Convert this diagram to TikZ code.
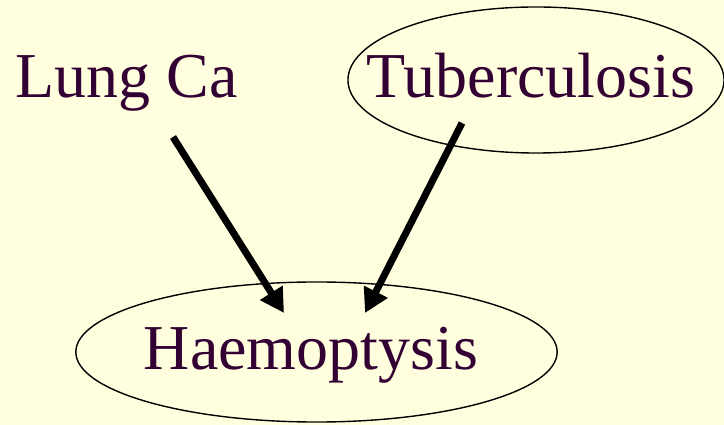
\documentclass[tikz,border=0pt]{standalone}
\usepackage{fontspec}
\setmainfont{Liberation Serif}
\usepackage{tikz}
\usetikzlibrary{positioning,arrows.meta,shapes.geometric}
\definecolor{slidebg}{RGB}{255,255,224}
\definecolor{termpurple}{RGB}{51,0,51}
\tikzset{
  term/.style={text=termpurple, inner sep=0pt, text height=30.1pt, text depth=0pt,
               font=\fontsize{45.5}{54}\selectfont},
  ring/.style={ellipse, draw=black, line width=1pt, inner sep=0pt},
  cause/.style={line width=5pt, -{Triangle[length=17pt,width=18pt]}}
}

\begin{document}
\begin{tikzpicture}[x=0.025cm, y=-0.025cm]
  \fill[slidebg] (0,0) rectangle (724,425);
  \useasboundingbox (0,0) rectangle (724,425);
  % ellipses round two of the terms
  \node[ring, minimum width=9.4cm, minimum height=3.65cm] (tbring) at (536,80) {};
  \node[ring, minimum width=12.03cm, minimum height=3.5cm] (haemring) at (316.5,352) {};
  % terms
  \node[term] (lungca) at (126.5,76.5) {Lung Ca};
  \node[term] (tb) at (531,76.5) {Tuberculosis};
  \node[term] (haem) at (311,348.5) {Haemoptysis};
  % arrow ends
  \coordinate (lungtail) at (173,137);
  \coordinate (tbtail) at (462,123);
  \coordinate (lunghead) at (284,313);
  \coordinate (tbhead) at (365,313);
  \draw[cause] (lungtail) -- (lunghead);
  \draw[cause] (tbtail) -- (tbhead);
\end{tikzpicture}
\end{document}
